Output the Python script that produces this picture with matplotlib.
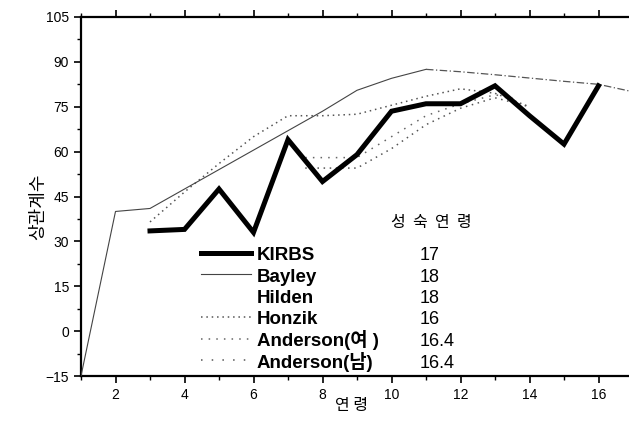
import matplotlib
matplotlib.use("Agg")
import matplotlib.pyplot as plt
from matplotlib.lines import Line2D
from matplotlib.ticker import MultipleLocator

plt.rcParams['font.family'] = ['Liberation Sans', 'Noto Sans CJK KR', 'DejaVu Sans']

# ---- data ----
kirbs_age = [3, 4, 5, 6, 7, 8, 9, 10, 11, 12, 13, 14, 15, 16]
kirbs_val = [33.5, 34, 47.5, 33, 64, 50, 59, 73.5, 76, 76, 82, 72, 62.5, 82]

bayley_age = [1, 2, 3, 4, 5, 6, 7, 8, 9, 10, 11]
bayley_val = [-15, 40, 41, 47.5, 54, 60.5, 67, 73.5, 80.5, 84.5, 87.5]

hilden_age = [11, 12, 13, 14, 15, 16, 17]
hilden_val = [87.5, 86.7, 85.7, 84.6, 83.5, 82.5, 80]

honzik_age = [3, 4, 5, 6, 7, 8, 9, 10, 11, 12, 13, 14]
honzik_val = [36.5, 46.5, 56, 65, 72, 72, 72.5, 75.5, 78.5, 81, 79.5, 75]

and_f_age = [7.5, 8, 9, 10, 11, 12, 13, 13.5]
and_f_val = [58, 58, 58, 65, 72, 76, 79, 78]

and_m_age = [7.5, 8, 9, 10, 11, 12, 13, 14]
and_m_val = [54.5, 54.5, 54.5, 61, 69, 74.5, 78, 75]

labels = ['KIRBS', 'Bayley', 'Hilden', 'Honzik', 'Anderson(여 )', 'Anderson(남)']
maturity = ['17', '18', '18', '16', '16.4', '16.4']

y_ticks = [-15, 0, 15, 30, 45, 60, 75, 90, 105]
x_ticks = [2, 4, 6, 8, 10, 12, 14, 16]

# ---- styles ----
styles = [
    dict(color='black', lw=3.6),
    dict(color='#444444', lw=0.8),
    dict(color='#555555', lw=0.9, ls=(0, (6, 2, 1, 2))),
    dict(color='#555555', lw=1.1, ls=(0, (1, 2.5))),
    dict(color='#666666', lw=1.1, ls=(0, (1, 4))),
    dict(color='#555555', lw=1.1, ls=(0, (1, 3))),
]

W, H = 629, 433
fig = plt.figure(figsize=(W / 100, H / 100), dpi=100)
ax = fig.add_axes([81 / W, 1 - 376 / H, 552 / W, (376 - 17) / H])

series = [(kirbs_age, kirbs_val), (bayley_age, bayley_val), (hilden_age, hilden_val),
          (honzik_age, honzik_val), (and_f_age, and_f_val), (and_m_age, and_m_val)]
zorders = [5, 4, 4, 3, 3, 3]
for (xs, ys), st, z in zip(series, styles, zorders):
    ax.plot(xs, ys, zorder=z, solid_joinstyle='miter', **st)

ax.set_xlim(1, 17)
ax.set_ylim(-15, 105)
ax.set_yticks(y_ticks)
ax.set_xticks(x_ticks)
ax.xaxis.set_minor_locator(MultipleLocator(1))
ax.yaxis.set_minor_locator(MultipleLocator(7.5))
ax.tick_params(axis='both', which='major', direction='out', length=5, width=1.2,
               labelsize=10, colors='black')
ax.tick_params(axis='both', which='minor', direction='out', length=3, width=1)
ax.tick_params(axis='x', top=True, which='both')
for s in ['left', 'bottom', 'top']:
    ax.spines[s].set_linewidth(1.6)
ax.spines['right'].set_visible(False)

ax.set_ylabel('상관계수', fontsize=13, family=['Noto Sans CJK KR'])
ax.yaxis.set_label_coords((47 - 81) / 552, (376 - 207) / 359)
ax.set_xlabel('연 령', fontsize=11.5, family=['Noto Sans CJK KR'])
ax.xaxis.set_label_coords((352 - 81) / 552, (376 - 397) / 359)

# ---- legend (drawn by hand so rows are evenly spaced) ----
def fx(px):
    return px / W

def fy(py):
    return 1 - py / H

base0, pitch = 260, 21.5
show_handle = [True, True, False, True, True, True]
handle_styles = list(styles)
handle_styles[5] = dict(color='#555555', lw=1.1, ls=(0, (1, 6)))
for i, (lab, mat) in enumerate(zip(labels, maturity)):
    yb = base0 + pitch * i
    if show_handle[i]:
        fig.add_artist(Line2D([fx(201), fx(251)], [fy(yb - 7.5)] * 2,
                              transform=fig.transFigure, **handle_styles[i]))
    fig.text(fx(257), fy(yb), lab, fontsize=13.5, fontweight='bold', va='baseline',
             ha='left', family=['Liberation Sans', 'Noto Sans CJK KR'])
    fig.text(fx(420), fy(yb), mat, fontsize=13, va='baseline', ha='left',
             family=['Liberation Sans'])

fig.text(fx(431), fy(222), '성  숙  연  령', fontsize=11.5, ha='center', va='center',
         family=['Noto Sans CJK KR'])

fig.savefig('out.png', dpi=100)
